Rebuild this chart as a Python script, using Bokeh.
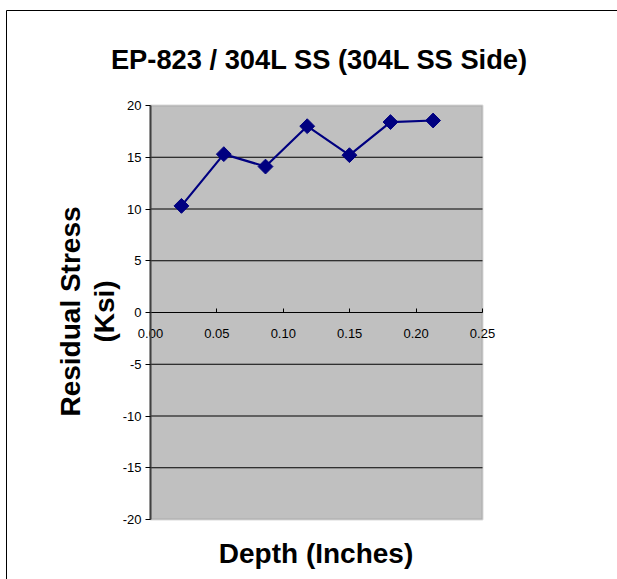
from bokeh.plotting import figure
from bokeh.models import (FixedTicker, NumeralTickFormatter, BoxAnnotation, Label,
                          Range1d, ColumnDataSource, LinearAxis)
from bokeh.embed import file_html
from bokeh.resources import INLINE
import math

# ---- data ----
depth = [0.0233, 0.0552, 0.0866, 0.1180, 0.1498, 0.1807, 0.2128]
stress = [10.3, 15.3, 14.1, 18.0, 15.2, 18.4, 18.55]
x_ticks = [0.00, 0.05, 0.10, 0.15, 0.20, 0.25]
y_ticks = [-20, -15, -10, -5, 0, 5, 10, 15, 20]
grid_vals = [-15, -10, -5, 5, 10, 15]
title_text = "EP-823 / 304L SS (304L SS Side)"
x_label = "Depth (Inches)"
y_label = "Residual Stress\n(Ksi)"

FONT = "Liberation Sans"

# ---- layout (pixels) ----
X0, X1 = 0.0, 0.25          # plot-area data extent
Y0, Y1 = -20.0, 20.0
AREA_L, AREA_R = 150, 482   # plot area in page pixels
AREA_T, AREA_B = 105, 519
FR_L, FR_T = 6, 10          # chart border (frame) top-left
W, H = 617, 579
FR_R, FR_B = W, H

sx = (AREA_R - AREA_L) / (X1 - X0)
sy = (AREA_B - AREA_T) / (Y1 - Y0)
def px_x(px):
    return X0 + (px - AREA_L) / sx
def px_y(py):
    return Y1 - (py - AREA_T) / sy

p = figure(frame_width=FR_R - FR_L, frame_height=FR_B - FR_T, title=None,
           output_backend="svg", toolbar_location=None,
           x_range=Range1d(px_x(FR_L), px_x(FR_R)), y_range=Range1d(px_y(FR_B), px_y(FR_T)),
           min_border_left=FR_L, min_border_right=0,
           min_border_top=FR_T, min_border_bottom=0)

p.background_fill_color = "white"
p.border_fill_color = "white"
p.outline_line_color = None

# chart border: left + top lines via axes on the frame edges
bl = p.left[0]
bl.ticker = FixedTicker(ticks=[])
bl.axis_line_color = "black"
bl.axis_line_width = 1
bl.major_tick_line_color = None
bl.minor_tick_line_color = None
bt = LinearAxis(ticker=FixedTicker(ticks=[]), axis_line_color="black", axis_line_width=1,
                major_tick_line_color=None, minor_tick_line_color=None)
p.add_layout(bt, "above")

# plot area (gray)
p.add_layout(BoxAnnotation(left=X0, right=X1, bottom=Y0, top=Y1,
                           fill_color="#C0C0C0", fill_alpha=1.0,
                           line_color="#808080", line_width=2, level="underlay"))

# x axis at y = 0
xa = p.below[0]
xa.fixed_location = 0
xa.bounds = (X0, X1)
xa.ticker = FixedTicker(ticks=x_ticks)
xa.formatter = NumeralTickFormatter(format="0.00")
xa.major_tick_in = 4
xa.major_tick_out = 0
xa.minor_tick_line_color = None
xa.axis_line_color = "black"
xa.axis_line_width = 1
xa.major_tick_line_color = "black"
xa.major_label_text_font = FONT
xa.major_label_text_font_size = "13px"
xa.major_label_text_color = "black"
xa.major_label_standoff = 16

# y axis with ticks at x = 0
ya = LinearAxis(fixed_location=0, bounds=(Y0, Y1), ticker=FixedTicker(ticks=y_ticks),
                formatter=NumeralTickFormatter(format="0"))
ya.major_tick_in = 0
ya.major_tick_out = 5
ya.minor_tick_line_color = None
ya.axis_line_color = "#404040"
ya.axis_line_width = 2
ya.major_tick_line_color = "black"
ya.major_label_text_font = FONT
ya.major_label_text_font_size = "13px"
ya.major_label_text_color = "black"
ya.major_label_standoff = 4
p.add_layout(ya, "left")

# grid
p.xgrid.grid_line_color = None
p.ygrid.grid_line_color = None
p.segment(x0=[X0] * len(grid_vals), x1=[X1] * len(grid_vals),
          y0=grid_vals, y1=grid_vals, line_color="black", line_width=1)

# titles
p.add_layout(Label(x=px_x(319), y=px_y(59), text=title_text, text_align="center",
                   text_baseline="alphabetic", text_font=FONT, text_font_size="27.3px",
                   text_font_style="bold", text_color="black"))
p.add_layout(Label(x=px_x(315.5), y=px_y(553), text=x_label, text_align="center",
                   text_baseline="alphabetic", text_font=FONT, text_font_size="28px",
                   text_font_style="bold", text_color="black"))
p.add_layout(Label(x=px_x(87), y=px_y(311), text=y_label, angle=math.pi / 2,
                   text_align="center", text_baseline="middle", text_font=FONT,
                   text_font_size="28px", text_font_style="bold", text_color="black",
                   text_line_height=1.1))

src = ColumnDataSource(dict(x=depth, y=stress))
p.line("x", "y", source=src, line_color="#000080", line_width=2.2)
p.scatter("x", "y", source=src, marker="square", size=10.5, angle=math.pi / 4,
          fill_color="#000080", line_color="#000080")

open("out.html", "w").write(file_html(p, INLINE))
